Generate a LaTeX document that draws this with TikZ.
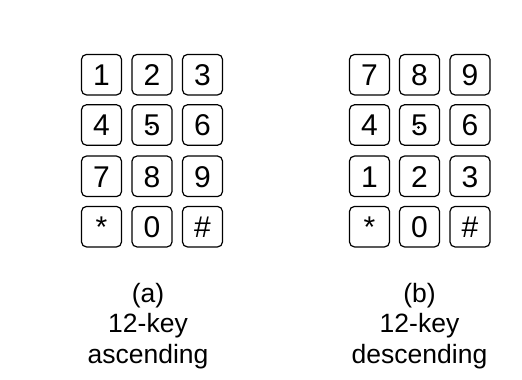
\documentclass[tikz,border=0pt]{standalone}
\usepackage{fontspec}
\setmainfont{Liberation Sans}
\begin{document}
\begin{tikzpicture}[x=1pt,y=1pt,
  keybox/.style={draw, line width=1.2pt, rounded corners=5pt, minimum width=40pt, minimum height=40.5pt, inner sep=0pt, text height=21.5pt, text depth=0pt, font=\fontsize{30}{30}\selectfont},
  caption/.style={align=center, font=\fontsize{26.5}{31}\selectfont, inner sep=0pt}]
\useasboundingbox (0,0) rectangle (522,380);
% left keypad (ascending)
\node[keybox] (a1) at (101.5,305.3) {1};
\node[keybox] (a2) at (152,305.3) {2};
\node[keybox] (a3) at (202.5,305.3) {3};
\node[keybox] (a4) at (101.5,255) {4};
\node[keybox] (a5) at (152,255) {5};
\node[keybox] (a6) at (202.5,255) {6};
\node[keybox] (a7) at (101.5,203.7) {7};
\node[keybox] (a8) at (152,203.7) {8};
\node[keybox] (a9) at (202.5,203.7) {9};
\node[keybox] (aS) at (101.5,153.3) {*};
\node[keybox] (a0) at (152,153.3) {0};
\node[keybox] (aH) at (202.5,153.3) {\#};
\fill (151,252.7) circle (1.5pt);
% right keypad (descending)
\node[keybox] (b7) at (369.5,305.3) {7};
\node[keybox] (b8) at (419.5,305.3) {8};
\node[keybox] (b9) at (470,305.3) {9};
\node[keybox] (b4) at (369.5,255) {4};
\node[keybox] (b5) at (419.5,255) {5};
\node[keybox] (b6) at (470,255) {6};
\node[keybox] (b1) at (369.5,203.7) {1};
\node[keybox] (b2) at (419.5,203.7) {2};
\node[keybox] (b3) at (470,203.7) {3};
\node[keybox] (bS) at (369.5,153.3) {*};
\node[keybox] (b0) at (419.5,153.3) {0};
\node[keybox] (bH) at (470,153.3) {\#};
\fill (418.5,252.7) circle (1.5pt);
% captions
\node[caption, anchor=base] (capa) at (148,16) {(a)\\12-key\\ascending};
\node[caption, anchor=base] (capb) at (419.5,16) {(b)\\12-key\\descending};
\end{tikzpicture}
\end{document}
